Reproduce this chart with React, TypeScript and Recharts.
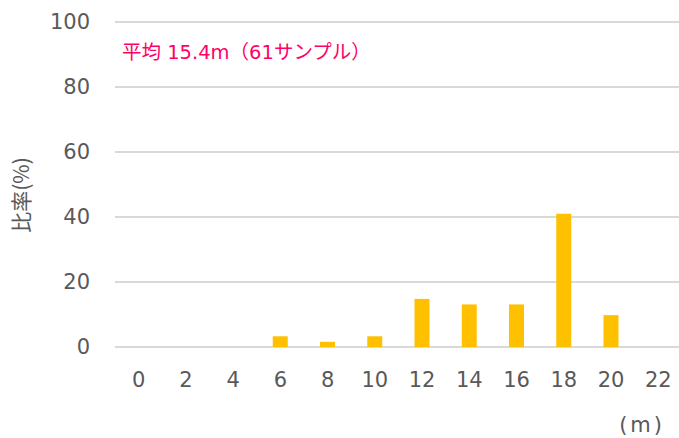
import { Bar, BarChart, CartesianGrid, XAxis, YAxis } from 'recharts';

const distances = ['0', '2', '4', '6', '8', '10', '12', '14', '16', '18', '20', '22'];
const ratios = [0, 0, 0, 3.3, 1.6, 3.3, 14.8, 13.1, 13.1, 41.0, 9.8, 0];
const yTicks = [0, 20, 40, 60, 80, 100];
const noteText = '平均 15.4m（61サンプル）';

const data = distances.map((d, i) => ({ dist: d, ratio: ratios[i] }));

const FONT = '"DejaVu Sans", Verdana, "Noto Sans CJK JP", sans-serif';
const TEXT = '#595959';

export default function App() {
    return (
        <div style={{ position: 'absolute', left: 0, top: 0, width: 679, height: 438, overflow: 'hidden', background: '#fff' }}>
            <BarChart
                width={682}
                height={438}
                data={data}
                margin={{ top: 22, right: 0, left: 0, bottom: 0 }}
                style={{ fontFamily: FONT }}
            >
                <CartesianGrid vertical={false} stroke="#cccccc" strokeWidth={1.5} />
                <XAxis
                    dataKey="dist"
                    height={91}
                    axisLine={false}
                    tickLine={false}
                    tickSize={0}
                    tickMargin={25}
                    tick={{ fill: TEXT, fontSize: 21, fontFamily: FONT }}
                    label={{ value: '(m)', position: 'insideBottomRight', offset: 17, dy: 11, fill: TEXT, fontSize: 21, fontFamily: FONT, letterSpacing: 3 }}
                />
                <YAxis
                    width={115}
                    domain={[0, 100]}
                    ticks={yTicks}
                    axisLine={false}
                    tickLine={false}
                    tickSize={0}
                    tickMargin={25}
                    tick={{ fill: TEXT, fontSize: 21, fontFamily: FONT }}
                    label={{
                        content: () => (
                            <text
                                x={20}
                                y={195}
                                transform="rotate(-90 20 195)"
                                textAnchor="middle"
                                dominantBaseline="central"
                                fill={TEXT}
                                fontSize={21}
                                fontFamily={'"Noto Sans CJK JP", sans-serif'}
                            >
                                比率(%)
                            </text>
                        ),
                    }}
                />
                <Bar dataKey="ratio" fill="#FFC000" barSize={15} isAnimationActive={false} />
                <text x={122} y={59} fill="#FF0066" fontSize={19.5} fontFamily={FONT}>
                    {noteText}
                </text>
            </BarChart>
        </div>
    );
}
